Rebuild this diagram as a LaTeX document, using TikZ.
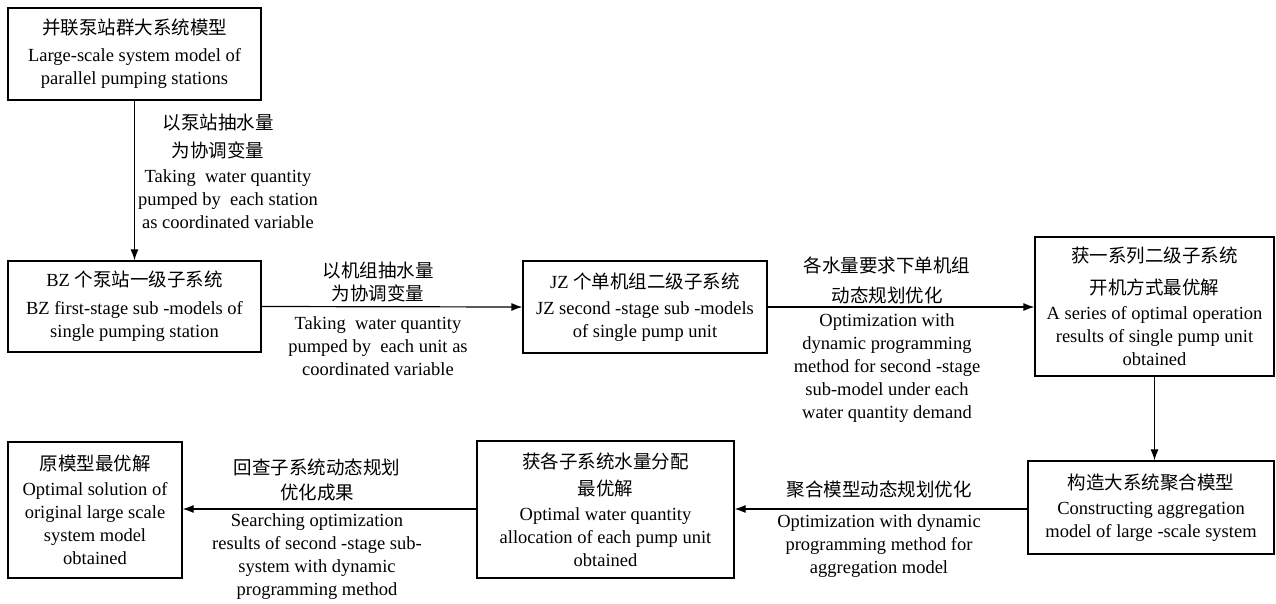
\documentclass[tikz,border=0pt]{standalone}
\usepackage{fontspec}
\setmainfont{Liberation Serif}
\newfontfamily\cjk{Noto Sans CJK SC}
\usetikzlibrary{arrows.meta}
\begin{document}
\begin{tikzpicture}[x=1pt,y=-1pt,
  box/.style={draw, line width=1.2pt, align=center, inner sep=0pt,
    font=\fontsize{18.5}{23}\selectfont},
  lbl/.style={align=center, inner sep=0pt, font=\fontsize{18.5}{23}\selectfont},
  arr/.style={line width=1.2pt, -{Latex[length=11pt,width=8pt]}}]
\useasboundingbox (0,0) rectangle (1276,603);
% boxes
\node[box, minimum width=253pt, minimum height=92pt] (b1) at (134.5,54)
  {{\cjk 并联泵站群大系统模型}\\[4pt] Large-scale system model of\\ parallel pumping stations};
\node[box, minimum width=253pt, minimum height=91pt] (bz) at (134.5,306.5)
  {BZ {\cjk 个泵站一级子系统}\\[5pt] BZ first-stage sub -models of\\ single pumping station};
\node[box, minimum width=244pt, minimum height=92pt] (jz) at (645,307)
  {JZ {\cjk 个单机组二级子系统}\\[3pt] JZ second -stage sub -models\\ of single pump unit};
\node[box, minimum width=239pt, minimum height=139pt] (rs) at (1154.5,306.5)
  {{\cjk 获一系列二级子系统}\\[9pt] {\cjk 开机方式最优解}\\[2pt] A series of optimal operation\\ results of single pump unit\\ obtained};
\node[box, minimum width=246pt, minimum height=93pt] (ca) at (1151,507.5)
  {{\cjk 构造大系统聚合模型}\\[2pt] Constructing aggregation\\ model of large -scale system};
\node[box, minimum width=257pt, minimum height=137pt] (oa) at (605.5,509.5)
  {{\cjk 获各子系统水量分配}\\[4pt] {\cjk 最优解}\\[2pt] Optimal water quantity\\ allocation of each pump unit\\ obtained};
\node[box, minimum width=174pt, minimum height=136pt] (os) at (95,510)
  {{\cjk 原模型最优解}\\[2pt] Optimal solution of\\ original large scale\\ system model\\ obtained};
% connectors
\draw[arr] (b1.south) -- (bz.north);
\draw[arr] (bz.east) -- (jz.west);
\draw[arr] (jz.east) -- (rs.west |- jz.east);
\draw[arr] (rs.south) -- (rs.south |- ca.north);
\draw[arr] (ca.west |- 0,509) -- (oa.east |- 0,509);
\draw[arr] (oa.west |- 0,509) -- (os.east |- 0,509);
% labels
\node[lbl] (l1a) at (218,136) {{\cjk 以泵站抽水量}\\[5pt] {\cjk 为协调变量}};
\node[lbl] (l1b) at (228,199) {Taking\ \ water quantity\\ pumped by\ \ each station\\ as coordinated variable};
\node[lbl] (l2a) at (378,282) {{\cjk 以机组抽水量}\\ {\cjk 为协调变量}};
\node[lbl] (l2b) at (378,346) {Taking\ \ water quantity\\ pumped by\ \ each unit\ as\\ coordinated variable};
\node[lbl] (l3a) at (887,280) {{\cjk 各水量要求下单机组}\\[7pt] {\cjk 动态规划优化}};
\node[lbl] (l3b) at (887,368) {Optimization with\\ dynamic programming\\ method for second -stage\\ sub-model under each\\ water quantity demand};
\node[lbl] (l4a) at (879,490) {\cjk 聚合模型动态规划优化};
\node[lbl] (l4b) at (879,546) {Optimization with dynamic\\ programming method for\\ aggregation model};
\node[lbl] (l5a) at (317,480) {{\cjk 回查子系统动态规划}\\[2pt] {\cjk 优化成果}};
\node[lbl] (l5b) at (317,557) {Searching optimization\\ results of second -stage sub-\\ system with dynamic\\ programming method};
\end{tikzpicture}
\end{document}
